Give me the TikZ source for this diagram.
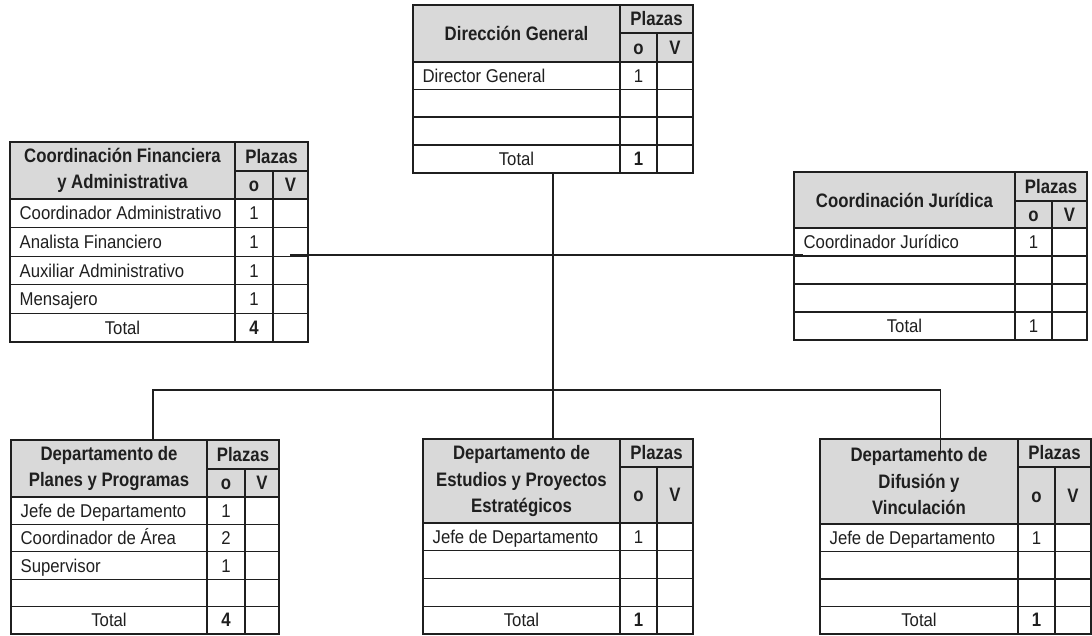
\documentclass[tikz,border=0pt]{standalone}
\usepackage{fontspec}
\setmainfont{Liberation Sans}[FakeStretch=0.905]
\newfontfamily\estrecha{Liberation Sans}[FakeStretch=0.86]
\definecolor{encabezado}{RGB}{217,217,217}
\tikzset{
    titulo/.style={font=\estrecha\fontsize{19.5}{26.5}\selectfont\bfseries, inner sep=0pt, align=center},
    celda/.style={font=\fontsize{18.5}{26.5}\selectfont, inner sep=0pt, text height=13.2pt, text depth=0pt},
    cifra/.style={celda, font=\estrecha\fontsize{19.5}{26.5}\selectfont\bfseries},
}
\begin{document}
\begin{tikzpicture}[x=1pt,y=-1pt,line width=1.3pt,color=black!88]
        \path (0,0) rectangle (1092,635);

        %Direccion General
        \begin{scope}[shift={(413,5)},local bounding box=DG]
            \fill[encabezado] (0,0) rectangle (280,57);
            \draw (0,0) rectangle (280,168);
            \draw (0,57) -- (280,57);
            \draw (207,0) -- (207,168);
            \draw (207,28) -- (280,28);
            \draw (244,28) -- (244,168);
            \foreach \y in {84.5,112,140}
                \draw (0,\y) -- (280,\y);
            \node[titulo] (dgTitulo) at (103.5,28.5) {Dirección General};
            \node[titulo] (dgPlazas) at (243.5,14) {Plazas};
            \node[cifra] (dgO) at (225.5,42.5) {o};
            \node[cifra] (dgV) at (262,42.5) {V};
            \node[celda,anchor=west] (dg1) at (9,70.8) {Director General};
            \node[celda] (dg1n) at (225.5,70.8) {1};
            \node[celda] (dgTotal) at (103.5,154) {Total};
            \node[cifra] (dgTotaln) at (225.5,154) {1};
        \end{scope}

        %Coordinacion Financiera y Administrativa
        \begin{scope}[shift={(10,142)},local bounding box=CFA]
            \fill[encabezado] (0,0) rectangle (298,57);
            \draw (0,0) rectangle (298,200);
            \draw (0,57) -- (298,57);
            \draw (225,0) -- (225,200);
            \draw (225,29) -- (298,29);
            \draw (263,29) -- (263,200);
            \foreach \y in {85.6,114.2,142.8,171.4}
                \draw (0,\y) -- (298,\y);
            \node[titulo] (cfaTitulo) at (112.5,28.5) {Coordinación Financiera\\y Administrativa};
            \node[titulo] (cfaPlazas) at (261.5,14.5) {Plazas};
            \node[cifra] (cfaO) at (244,43) {o};
            \node[cifra] (cfaV) at (280.5,43) {V};
            \node[celda,anchor=west] (cfa1) at (9,71.3) {Coordinador Administrativo};
            \node[celda] (cfa1n) at (244,71.3) {1};
            \node[celda,anchor=west] (cfa2) at (9,99.9) {Analista Financiero};
            \node[celda] (cfa2n) at (244,99.9) {1};
            \node[celda,anchor=west] (cfa3) at (9,128.5) {Auxiliar Administrativo};
            \node[celda] (cfa3n) at (244,128.5) {1};
            \node[celda,anchor=west] (cfa4) at (9,157.1) {Mensajero};
            \node[celda] (cfa4n) at (244,157.1) {1};
            \node[celda] (cfaTotal) at (112.5,185.7) {Total};
            \node[cifra] (cfaTotaln) at (244,185.7) {4};
        \end{scope}

        %Coordinacion Juridica
        \begin{scope}[shift={(794,172)},local bounding box=CJ]
            \fill[encabezado] (0,0) rectangle (293,56);
            \draw (0,0) rectangle (293,168);
            \draw (0,56) -- (293,56);
            \draw (221,0) -- (221,168);
            \draw (221,29) -- (293,29);
            \draw (258,29) -- (258,168);
            \foreach \y in {84,112,140}
                \draw (0,\y) -- (293,\y);
            \node[titulo] (cjTitulo) at (110.5,28) {Coordinación Jurídica};
            \node[titulo] (cjPlazas) at (257,14.5) {Plazas};
            \node[cifra] (cjO) at (239.5,42.5) {o};
            \node[cifra] (cjV) at (275.5,42.5) {V};
            \node[celda,anchor=west] (cj1) at (9,70) {Coordinador Jurídico};
            \node[celda] (cj1n) at (239.5,70) {1};
            \node[celda] (cjTotal) at (110.5,154) {Total};
            \node[celda] (cjTotaln) at (239.5,154) {1};
        \end{scope}

        %Departamento de Planes y Programas
        \begin{scope}[shift={(11,440)},local bounding box=PP]
            \fill[encabezado] (0,0) rectangle (268,57);
            \draw (0,0) rectangle (268,194);
            \draw (0,57) -- (268,57);
            \draw (196,0) -- (196,194);
            \draw (196,29) -- (268,29);
            \draw (234,29) -- (234,194);
            \foreach \y in {84.4,111.8,139.2,166.6}
                \draw (0,\y) -- (268,\y);
            \node[titulo] (ppTitulo) at (98,28.5) {Departamento de\\Planes y Programas};
            \node[titulo] (ppPlazas) at (232,14.5) {Plazas};
            \node[cifra] (ppO) at (215,43) {o};
            \node[cifra] (ppV) at (251,43) {V};
            \node[celda,anchor=west] (pp1) at (9,70.7) {Jefe de Departamento};
            \node[celda] (pp1n) at (215,70.7) {1};
            \node[celda,anchor=west] (pp2) at (9,98.1) {Coordinador de Área};
            \node[celda] (pp2n) at (215,98.1) {2};
            \node[celda,anchor=west] (pp3) at (9,125.5) {Supervisor};
            \node[celda] (pp3n) at (215,125.5) {1};
            \node[celda] (ppTotal) at (98,180.3) {Total};
            \node[cifra] (ppTotaln) at (215,180.3) {4};
        \end{scope}

        %Departamento de Estudios y Proyectos Estrategicos
        \begin{scope}[shift={(423,439)},local bounding box=EPE]
            \fill[encabezado] (0,0) rectangle (270,84);
            \draw (0,0) rectangle (270,195);
            \draw (0,84) -- (270,84);
            \draw (197,0) -- (197,195);
            \draw (197,28) -- (270,28);
            \draw (234,28) -- (234,195);
            \foreach \y in {111.75,139.5,167.25}
                \draw (0,\y) -- (270,\y);
            \node[titulo] (epeTitulo) at (98.5,42) {Departamento de\\Estudios y Proyectos\\Estratégicos};
            \node[titulo] (epePlazas) at (233.5,14) {Plazas};
            \node[cifra] (epeO) at (215.5,56) {o};
            \node[cifra] (epeV) at (252,56) {V};
            \node[celda,anchor=west] (epe1) at (9,97.9) {Jefe de Departamento};
            \node[celda] (epe1n) at (215.5,97.9) {1};
            \node[celda] (epeTotal) at (98.5,181.1) {Total};
            \node[cifra] (epeTotaln) at (215.5,181.1) {1};
        \end{scope}

        %Departamento de Difusion y Vinculacion
        \begin{scope}[shift={(820,439)},local bounding box=DV]
            \fill[encabezado] (0,0) rectangle (271,85);
            \draw (0,0) rectangle (271,195);
            \draw (0,85) -- (271,85);
            \draw (198,0) -- (198,195);
            \draw (198,28) -- (271,28);
            \draw (235,28) -- (235,195);
            \foreach \y in {112.5,140,167.5}
                \draw (0,\y) -- (271,\y);
            \node[titulo] (dvTitulo) at (99,42.5) {Departamento de\\Difusión y\\Vinculación};
            \node[titulo] (dvPlazas) at (234.5,14) {Plazas};
            \node[cifra] (dvO) at (216.5,56.5) {o};
            \node[cifra] (dvV) at (253,56.5) {V};
            \node[celda,anchor=west] (dv1) at (9,98.7) {Jefe de Departamento};
            \node[celda] (dv1n) at (216.5,98.7) {1};
            \node[celda] (dvTotal) at (99,181.2) {Total};
            \node[cifra] (dvTotaln) at (216.5,181.2) {1};
        \end{scope}

        %Lineas de mando
        \coordinate (enlace) at (553,255);
        \coordinate (cruce) at (553,390);
        \draw (DG.south) -- (DG.south |- EPE.north);
        \draw ([xshift=-18pt]CFA.east |- enlace) -- ([xshift=9pt]CJ.west |- enlace);
        \draw ([xshift=8pt]PP.north) |- (cruce) -| ([xshift=-15pt,yshift=-15pt]DV.north);
    \end{tikzpicture}
\end{document}
